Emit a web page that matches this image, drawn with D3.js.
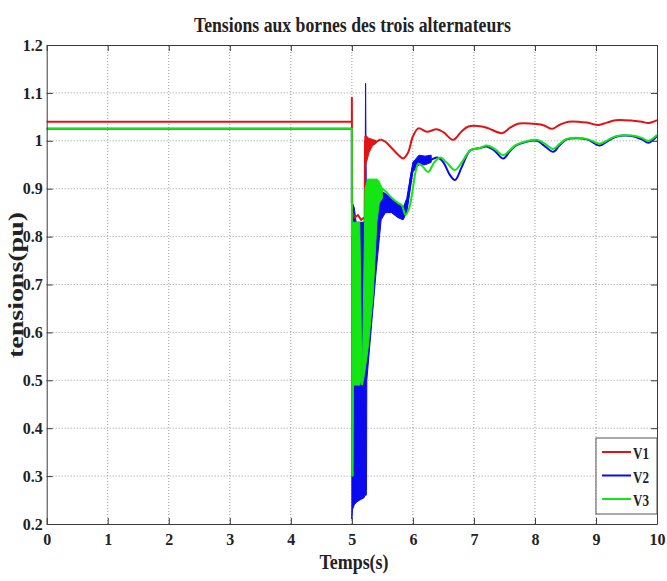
<!DOCTYPE html>
<html>
<head>
<meta charset="utf-8">
<script src="https://cdn.jsdelivr.net/npm/d3@7"></script>
<style>
  body { margin: 0; background: #fff; }
  text { font-family: "Liberation Serif", "Times New Roman", serif; font-weight: bold; fill: #222; }
</style>
</head>
<body>
<div id="chart"></div>
<script>
var w = 667,
    h = 581;

var palette = {
    v1: '#e01414',
    v2: '#0a0aee',
    v3: '#14e614',
    grid: '#9a9a9a',
    axis: '#3a3a3a'
}

var xTicks = [0, 1, 2, 3, 4, 5, 6, 7, 8, 9, 10]
var yTicks = [0.2, 0.3, 0.4, 0.5, 0.6, 0.7, 0.8, 0.9, 1, 1.1, 1.2]
var legendLabels = ['V1', 'V2', 'V3']

// [temps, tension] ; null = trace hidden in the oscillation band
var v1Line = [[0,1.04],[5.0,1.04],[5.0,1.09],[5.005,0.85],[5.05,0.84],[5.1,0.845],[5.15,0.835],[5.21,0.84],
    [5.215,1.0],[5.25,0.985],[5.3,0.99],[5.4,0.998],[5.47,1.003],[5.55,0.998],[5.63,0.988],[5.75,0.972],
    [5.84,0.963],[5.92,0.975],[6.0,1.009],[6.09,1.026],[6.23,1.019],[6.39,1.024],[6.5,1.018],[6.66,1.002],
    [6.8,1.02],[6.91,1.03],[7.13,1.03],[7.24,1.026],[7.46,1.016],[7.6,1.028],[7.74,1.036],[8.03,1.035],
    [8.15,1.032],[8.28,1.025],[8.4,1.033],[8.55,1.04],[8.85,1.038],[9.04,1.033],[9.18,1.038],[9.32,1.043],
    [9.61,1.042],[9.75,1.04],[9.86,1.037],[10,1.043]]

var v2Line = [[0,1.025],[5.0,1.025],[5.0,0.87],[5.2,null],[5.5,0.87],[5.6,0.865],[5.75,0.855],[5.84,0.845],[5.9,0.865],
    [6.0,0.945],[6.05,0.955],[6.12,0.96],[6.25,0.958],[6.4,0.965],[6.5,0.955],[6.6,0.93],[6.69,0.918],
    [6.8,0.945],[6.94,0.98],[7.1,0.985],[7.21,0.988],[7.35,0.978],[7.48,0.963],[7.6,0.98],[7.7,0.991],
    [8.03,1.0],[8.15,0.99],[8.3,0.977],[8.4,0.99],[8.52,1.003],[8.85,1.003],[9.06,0.99],[9.2,1.0],
    [9.34,1.009],[9.59,1.01],[9.75,1.003],[9.86,0.996],[10,1.01]]

var v3Line = [[0,1.025],[5.0,1.025],[5.0,0.8],[5.2,null],[5.45,0.9],[5.5,0.9],[5.55,0.895],[5.66,0.88],[5.76,0.87],[5.82,0.865],
    [5.88,0.845],[5.94,0.86],[6.0,0.9],[6.04,0.933],[6.09,0.952],[6.15,0.948],[6.25,0.935],[6.35,0.955],
    [6.45,0.965],[6.55,0.955],[6.69,0.939],[6.8,0.955],[6.94,0.98],[7.1,0.985],[7.21,0.99],[7.35,0.982],
    [7.48,0.97],[7.6,0.982],[7.7,0.992],[8.03,1.002],[8.15,0.995],[8.3,0.983],[8.4,0.993],[8.52,1.004],
    [8.85,1.004],[9.06,0.994],[9.2,1.002],[9.34,1.01],[9.59,1.011],[9.75,1.006],[9.86,1.0],[10,1.012]]

// where each trace leaves the fault and becomes smooth
var smoothFrom = [5.47, 5.5, 5.45]

// oscillation envelopes: [temps, min, max]
var v1Band = [[5.215,0.95,1.01],[5.24,0.955,1.01],[5.28,0.975,1.005],[5.34,0.99,1.003],[5.4,0.995,1.0]]

var v2Band = [[5.0,0.21,0.87],[5.01,0.23,0.87],[5.04,0.24,0.86],[5.07,0.245,0.83],[5.13,0.25,0.83],
    [5.2,0.255,0.83],[5.215,0.26,0.86],[5.225,0.26,1.12],[5.235,0.26,0.92],[5.24,0.27,0.9],
    [5.245,0.5,0.9],[5.33,0.626,0.9],[5.4,0.73,0.9],[5.48,0.835,0.895],[5.55,0.85,0.89],
    [5.65,0.85,0.88],[5.75,0.84,0.87],[5.84,0.835,0.86],[5.9,0.85,0.88],[6.0,0.935,0.955],
    [6.1,0.95,0.97],[6.2,0.95,0.968],[6.3,0.955,0.97]]

var v3BandA = [[5.0,0.30,0.83],[5.02,0.30,0.83],[5.025,0.49,0.83],[5.13,0.49,0.83],[5.145,0.5,0.7],
    [5.165,0.49,0.5]]

var v3BandB = [[5.17,0.49,0.5],[5.19,0.5,0.66],[5.215,0.52,0.9],[5.26,0.56,0.92],[5.3,0.61,0.92],
    [5.35,0.68,0.92],[5.41,0.83,0.92],[5.45,0.87,0.915],[5.5,0.88,0.9]]

var margin = { left: 46.7, right: 10, top: 45, bottom: 57 }

var x = d3.scaleLinear().domain([0, 10]).range([margin.left, w - margin.right])
var y = d3.scaleLinear().domain([0.2, 1.2]).range([h - margin.bottom, margin.top])

var svg = d3.select('#chart')
    .append('svg')
    .attr('width', w)
    .attr('height', h)

// grid
svg.append('g').selectAll('line')
    .data(xTicks.slice(1, -1)).enter().append('line')
    .attr('x1', function(d) { return x(d) }).attr('x2', function(d) { return x(d) })
    .attr('y1', y(0.2)).attr('y2', y(1.2))
    .attr('stroke', palette.grid).attr('stroke-dasharray', '1,2')

svg.append('g').selectAll('line')
    .data(yTicks.slice(1, -1)).enter().append('line')
    .attr('y1', function(d) { return y(d) }).attr('y2', function(d) { return y(d) })
    .attr('x1', x(0)).attr('x2', x(10))
    .attr('stroke', palette.grid).attr('stroke-dasharray', '1,2')

var line = d3.line()
    .defined(function(d) { return d[1] != null })
    .x(function(d) { return x(d[0]) })
    .y(function(d) { return y(d[1]) })

var smoothLine = d3.line()
    .curve(d3.curveCatmullRom.alpha(0.5))
    .x(function(d) { return x(d[0]) })
    .y(function(d) { return y(d[1]) })

var band = d3.area()
    .x(function(d) { return x(d[0]) })
    .y0(function(d) { return y(d[1]) })
    .y1(function(d) { return y(d[2]) })

var plot = svg.append('g')

function drawBand(data, color) {
    plot.append('path').datum(data)
        .attr('d', band)
        .attr('fill', color)
        .attr('stroke', color)
        .attr('stroke-width', 1)
}

function drawLine(data, split, color, width) {
    var before = data.filter(function(d) { return d[0] <= split })
    var after = data.filter(function(d) { return d[0] >= split })
    plot.append('path').datum(before)
        .attr('d', line)
        .attr('fill', 'none')
        .attr('stroke', color)
        .attr('stroke-width', width)
        .attr('stroke-linejoin', 'round')
    plot.append('path').datum(after)
        .attr('d', smoothLine)
        .attr('fill', 'none')
        .attr('stroke', color)
        .attr('stroke-width', width)
        .attr('stroke-linejoin', 'round')
}

drawBand(v2Band, palette.v2)
drawLine(v2Line, smoothFrom[1], palette.v2, 2)
drawLine(v1Line, smoothFrom[0], palette.v1, 2)
drawBand(v1Band, palette.v1)
drawBand(v3BandA, palette.v3)
drawBand(v3BandB, palette.v3)
drawLine(v3Line, smoothFrom[2], palette.v3, 2)

// axes, MATLAB box with inner ticks
svg.append('g')
    .attr('transform', 'translate(0,' + y(0.2) + ')')
    .call(d3.axisBottom(x).tickValues(xTicks).tickSizeInner(-6).tickSizeOuter(0).tickPadding(10).tickFormat(d3.format('d')))
svg.append('g')
    .attr('transform', 'translate(0,' + y(1.2) + ')')
    .call(d3.axisTop(x).tickValues(xTicks).tickSizeInner(-6).tickSizeOuter(0).tickFormat(''))
svg.append('g')
    .attr('transform', 'translate(' + x(0) + ',0)')
    .call(d3.axisLeft(y).tickValues(yTicks).tickSizeInner(-6).tickSizeOuter(0).tickPadding(4).tickFormat(d3.format('~g')))
svg.append('g')
    .attr('transform', 'translate(' + x(10) + ',0)')
    .call(d3.axisRight(y).tickValues(yTicks).tickSizeInner(-6).tickSizeOuter(0).tickFormat(''))

svg.selectAll('.domain').attr('stroke', palette.axis)
svg.selectAll('.tick line').attr('stroke', palette.axis)
svg.selectAll('.tick text')
    .attr('font-family', '"Liberation Serif", serif')
    .attr('font-weight', 'bold')
    .attr('font-size', 16)
    .attr('fill', '#222')

// titles
svg.append('text')
    .attr('x', 352.5).attr('y', 32)
    .attr('text-anchor', 'middle')
    .attr('font-size', 22)
    .attr('textLength', 317).attr('lengthAdjust', 'spacingAndGlyphs')
    .text('Tensions aux bornes des trois alternateurs')

svg.append('text')
    .attr('x', 354).attr('y', 569)
    .attr('text-anchor', 'middle')
    .attr('font-size', 22)
    .attr('textLength', 69).attr('lengthAdjust', 'spacingAndGlyphs')
    .text('Temps(s)')

svg.append('text')
    .attr('transform', 'translate(23,285) rotate(-90)')
    .attr('text-anchor', 'middle')
    .attr('font-size', 20)
    .attr('textLength', 146).attr('lengthAdjust', 'spacingAndGlyphs')
    .text('tensions(pu)')

// legend
var legend = svg.append('g').attr('transform', 'translate(596,438)')
legend.append('rect')
    .attr('width', 61).attr('height', 76)
    .attr('fill', '#fff').attr('stroke', '#555')

var colors = [palette.v1, palette.v2, palette.v3]
var entry = legend.selectAll('g.entry')
    .data(legendLabels).enter().append('g')
    .attr('transform', function(d, i) { return 'translate(0,' + (14 + i * 23.5) + ')' })

entry.append('line')
    .attr('x1', 6).attr('x2', 35)
    .attr('stroke', function(d, i) { return colors[i] })
    .attr('stroke-width', 2)

entry.append('text')
    .attr('x', 37).attr('y', 7)
    .attr('font-size', 16)
    .attr('textLength', 16).attr('lengthAdjust', 'spacingAndGlyphs')
    .text(function(d) { return d })
</script>
</body>
</html>
